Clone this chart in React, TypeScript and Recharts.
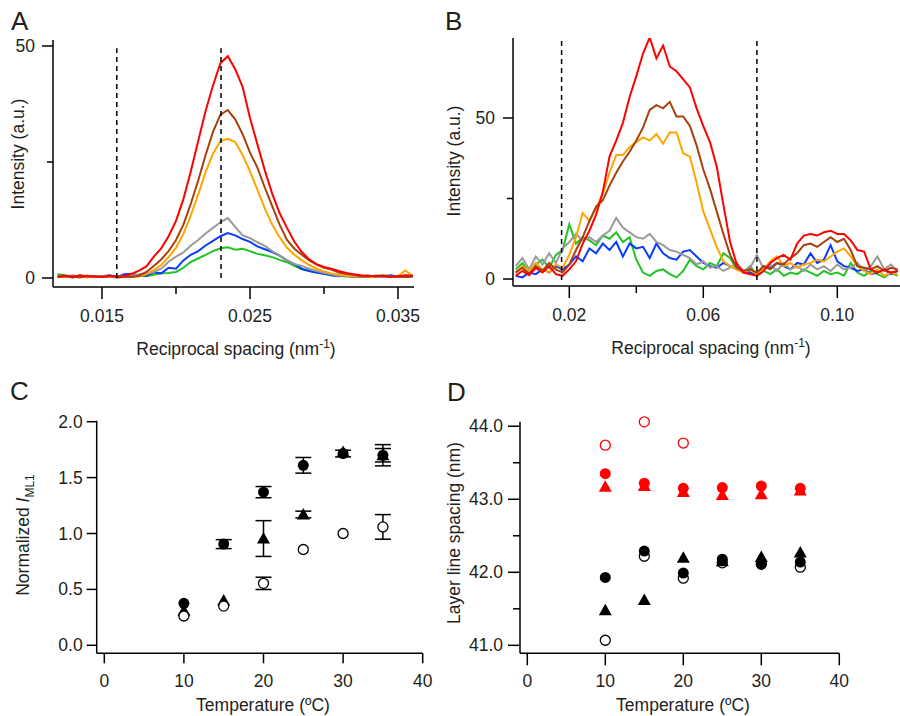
import React from "react";
import {
  LineChart,
  Line,
  XAxis,
  YAxis,
  ReferenceLine,
  ScatterChart,
  Scatter,
  ErrorBar,
} from "recharts";

const FONT = '"Liberation Sans", Arial, Helvetica, sans-serif';
const INK = "#231f20";

const COLORS = {
  red: "#ff0000",
  brown: "#a8400c",
  orange: "#ffa500",
  gray: "#9a9a9a",
  blue: "#0a3cff",
  green: "#20c420",
};

// ---- panel A: first layer line profiles
const aX = [
  0.012, 0.0125, 0.013, 0.0135, 0.014, 0.0145, 0.015, 0.0155, 0.016, 0.0165,
  0.017, 0.0175, 0.018, 0.0185, 0.019, 0.0195, 0.02, 0.0205, 0.021, 0.0215,
  0.022, 0.0225, 0.023, 0.0235, 0.024, 0.0245, 0.025, 0.0255, 0.026, 0.0265,
  0.027, 0.0275, 0.028, 0.0285, 0.029, 0.0295, 0.03, 0.0305, 0.031, 0.0315,
  0.032, 0.0325, 0.033, 0.0335, 0.034, 0.0345, 0.035, 0.0355, 0.036,
];
const aRed = [
  0.3, 0.5, 0.2, 0.6, 0.3, 0.4, 0.2, 0.5, 0.3, 0.4,
  0.9, 1.6, 2.5, 4.6, 6.4, 9.0, 12.3, 17.0, 23.0, 29.5,
  36.0, 41.5, 46.3, 47.8, 45.0, 41.2, 34.5, 28.8, 23.2, 18.2,
  14.0, 10.8, 7.8, 5.6, 4.0, 3.0, 2.4, 2.0, 1.5, 1.1,
  0.8, 0.6, 0.5, 0.4, 0.5, 0.3, 0.4, 0.6, 0.5,
];
const aBrown = [
  0.2, 0.4, 0.3, 0.1, 0.5, 0.3, 0.2, 0.4, 0.1, 0.3,
  0.2, 0.5, 1.3, 2.6, 4.0, 5.8, 8.2, 11.5, 16.0, 21.0,
  26.5, 31.5, 35.2, 36.2, 34.2, 31.0, 27.0, 23.8, 19.5, 15.5,
  11.5, 8.2, 6.3, 5.0, 3.8, 2.9, 2.2, 1.8, 1.2, 0.9,
  0.7, 0.4, 0.3, 0.5, 0.3, 0.2, 0.3, 0.2, 0.4,
];
const aOrange = [
  0.3, 0.2, 0.5, 0.3, 0.1, 0.4, 0.2, 0.3, 0.2, 0.3,
  0.2, 0.3, 0.8, 1.7, 2.8, 4.5, 6.5, 9.5, 13.5, 18.0,
  22.8, 26.8, 29.5, 30.0, 29.3, 26.5, 23.0, 19.0, 15.0, 11.5,
  8.8, 6.5, 5.0, 3.8, 2.8, 2.0, 1.4, 1.0, 0.7, 0.5,
  0.3, 0.4, 0.2, 0.3, 0.5, 0.2, 0.4, 1.6, 0.4,
];
const aGray = [
  0.4, 0.2, 0.6, 0.3, 0.5, 0.2, 0.4, 0.3, 0.2, 0.4,
  0.5, 0.8, 1.0, 1.3, 2.0, 3.5, 4.6, 5.5, 7.0, 8.2,
  9.6, 10.8, 12.0, 12.9, 11.0, 9.2, 8.6, 7.7, 6.9, 5.8,
  4.9, 3.8, 3.0, 2.6, 2.0, 1.5, 1.1, 0.8, 0.5, 0.6,
  0.4, 0.3, 0.5, 0.2, 0.4, 0.3, 0.2, 0.4, 0.3,
];
const aBlue = [
  0.2, 0.4, 0.1, 0.5, 0.3, 0.2, 0.4, 0.6, 0.2, 0.8,
  0.9, 0.6, 0.5, 1.2, 1.0, 2.2, 2.0, 3.8, 5.0, 5.8,
  7.0, 8.0, 9.0, 9.7, 9.2, 8.4, 7.8, 6.8, 6.2, 5.6,
  4.8, 3.8, 3.0, 2.0, 1.5, 1.2, 0.9, 0.6, 0.4, 0.5,
  0.2, 0.3, 0.5, 0.2, 0.4, 0.6, 0.3, 0.4, 0.3,
];
const aGreen = [
  0.8, 0.6, 0.3, 0.5, 0.4, 0.2, 0.3, 0.4, 0.1, 0.2,
  0.3, 0.5, 0.4, 0.7, 1.0, 1.1, 1.3, 2.2, 3.5, 4.2,
  5.0, 5.8, 6.4, 6.6, 6.1, 6.3, 5.8, 5.2, 4.9, 4.5,
  3.9, 3.4, 2.6, 1.9, 1.5, 1.2, 0.9, 0.6, 0.5, 0.3,
  0.4, 0.2, 0.3, 0.5, 0.6, 0.3, 0.2, 0.4, 0.3,
];
const aXTicks = [0.015, 0.02, 0.025, 0.03, 0.035];
const aXLabels = ["0.015", "", "0.025", "", "0.035"];
const aYTicks = [0, 25, 50];
const aYLabels = ["0", "", "50"];
const aMarkers = [0.016, 0.02304];

// ---- panel B: wider profiles
const bX = [
  0.004, 0.006, 0.008, 0.01, 0.012, 0.014, 0.016, 0.018, 0.02, 0.022,
  0.024, 0.026, 0.028, 0.03, 0.032, 0.034, 0.036, 0.038, 0.04, 0.042,
  0.044, 0.046, 0.048, 0.05, 0.052, 0.054, 0.056, 0.058, 0.06, 0.062,
  0.064, 0.066, 0.068, 0.07, 0.072, 0.074, 0.076, 0.078, 0.08, 0.082,
  0.084, 0.086, 0.088, 0.09, 0.092, 0.094, 0.096, 0.098, 0.1, 0.102,
  0.104, 0.106, 0.108, 0.11, 0.112, 0.114, 0.116, 0.118,
];
const bRed = [
  1.0, 2.5, 1.2, 3.5, 2.0, 4.0, 1.5, 1.0, 3.0, 5.5,
  11.0, 15.0, 20.0, 27.0, 38.0, 43.0, 48.5, 56.5, 63.0, 70.0,
  75.0, 68.5, 72.5, 66.0, 64.5, 62.0, 59.5, 53.0, 47.5, 42.5,
  35.0, 23.0, 11.5, 4.5, 2.0, 1.5, 1.0, 2.5, 5.0, 6.5,
  7.5, 6.0, 11.0, 13.5, 14.0, 13.5, 14.5, 15.0, 14.0, 14.0,
  12.0, 9.0, 8.5, 3.0, 2.0, 3.0, 2.0, 2.5,
];
const bBrown = [
  2.0, 3.5, 1.5, 4.0, 2.5, 5.0, 3.0, 2.0, 4.5, 9.0,
  13.0, 18.0, 22.5, 24.5, 29.0, 33.0, 36.5, 39.5, 43.0, 47.0,
  52.5, 54.0, 53.0, 55.0, 50.5, 50.5, 47.5, 41.5, 34.0, 28.0,
  21.0, 14.0, 7.5, 3.5, 2.5, 3.0, 2.0, 4.0, 3.0, 5.0,
  4.5, 6.5, 8.0, 10.5, 11.0, 10.0, 11.5, 13.0, 11.5, 12.5,
  9.0, 4.0, 3.5, 3.0, 4.0, 2.5, 3.5, 3.0,
];
const bOrange = [
  2.0, 4.0, 2.5, 5.0, 3.0, 2.0, 4.5, 3.5, 7.5, 13.0,
  20.5, 18.0, 22.0, 26.5, 33.0, 38.5, 38.5, 41.0, 42.5, 44.0,
  43.0, 45.0, 42.0, 45.5, 45.5, 39.0, 38.0, 30.0, 21.0, 15.5,
  10.0, 5.5, 4.0, 3.0, 2.0, 3.0, 1.5, 3.0, 5.5, 7.0,
  4.0, 5.0, 3.5, 4.5, 5.0, 6.0, 5.5, 7.0, 8.5, 9.5,
  7.0, 4.0, 2.5, 1.5, 3.0, 1.0, 2.0, 1.5,
];
const bGreen = [
  3.0, 5.0, 2.0, 4.5, 6.0, 3.5, 7.5, 9.0, 17.0, 11.0,
  13.0, 12.0, 10.5, 13.5, 12.5, 14.5, 11.5, 13.0, 6.0, 2.0,
  1.0, 2.5, 3.0, 1.5, 0.5, 2.5, 6.0, 4.0, 3.0, 5.0,
  4.0, 8.0, 6.5, 3.0, 2.0, 4.0, 1.0, 2.5, 1.5, 3.0,
  1.0, 2.0, 1.5, 3.0, 2.0, 1.0, 2.5, 1.5, 2.0, 1.0,
  5.0, 2.0, 1.0, 2.5, 1.5, 0.5, 2.0, 1.0,
];
const bBlue = [
  1.0, 0.5, 2.0, 1.5, 3.0, 2.0, 4.0, 3.0, 4.5, 7.0,
  5.5, 9.5, 8.0, 11.0, 9.0, 11.5, 7.0, 11.0, 9.5, 10.0,
  6.5, 11.0, 8.0, 6.5, 6.0, 8.5, 9.0, 7.0, 5.0, 4.0,
  3.5, 5.0, 4.0, 3.0, 2.5, 2.0, 1.0, 4.0, 3.5, 5.0,
  4.0, 3.0, 5.0, 4.5, 8.0, 5.0, 6.0, 10.5, 5.5, 4.0,
  3.5, 2.5, 3.0, 1.5, 2.0, 3.0, 1.5, 2.5,
];
const bGray = [
  4.0, 6.5, 3.0, 7.0, 4.5, 8.0, 5.0, 9.5, 11.5, 14.0,
  12.0, 13.0, 11.5, 13.5, 15.0, 19.0, 16.0, 14.5, 13.0, 12.5,
  14.0, 11.5, 10.5, 9.0, 8.5, 7.5, 6.5, 4.5, 5.5, 3.5,
  4.0, 2.5, 3.5, 5.0, 2.5, 3.5, 7.5, 3.0, 4.5, 2.5,
  5.0, 3.0, 4.0, 2.5, 4.5, 3.0, 4.0, 2.5, 4.5, 3.0,
  3.5, 5.0, 2.5, 4.0, 7.0, 3.0, 4.5, 2.5,
];
const bXTicks = [0.02, 0.04, 0.06, 0.08, 0.1];
const bXLabels = ["0.02", "", "0.06", "", "0.10"];
const bMarkers = [0.0177, 0.076];

// ---- panel C: normalized I_ML1 vs temperature
const temps = [10, 15, 20, 25, 30, 35];
const cCircle = [0.375, 0.905, 1.37, 1.61, 1.715, 1.7];
const cCircleErr = [null, 0.04, 0.05, 0.07, 0.03, 0.06];
const cTriangle = [0.31, 0.4, 0.955, 1.17, 1.73, 1.7];
const cTriangleErr = [null, null, 0.16, 0.03, null, 0.095];
const cOpen = [0.262, 0.351, 0.554, 0.857, 1.0, 1.059];
const cOpenErr = [null, null, 0.055, null, null, 0.11];
const cYTicks = [0, 0.5, 1, 1.5, 2];
const cYLabels = ["0.0", "0.5", "1.0", "1.5", "2.0"];
const tempTicks = [0, 10, 20, 30, 40];
const tempLabels = ["0", "10", "20", "30", "40"];

// ---- panel D: layer line spacing vs temperature
const dRedOpenTemps = [10, 15, 20];
const dRedOpen = [43.74, 44.06, 43.77];
const dRedCircle = [43.35, 43.22, 43.15, 43.16, 43.18, 43.15];
const dRedTriangle = [43.17, 43.18, 43.1, 43.06, 43.07, 43.12];
const dBlackCircle = [41.93, 42.29, 41.99, 42.18, 42.12, 42.14];
const dBlackOpen = [41.07, 42.22, 41.92, 42.13, 42.11, 42.07];
const dBlackTriangle = [41.48, 41.62, 42.2, 42.15, 42.21, 42.27];
const dYTicks = [41, 41.5, 42, 42.5, 43, 43.5, 44];
const dYLabels = ["41.0", "", "42.0", "", "43.0", "", "44.0"];

const aRows = aX.map((x, i) => ({
  x,
  red: aRed[i],
  brown: aBrown[i],
  orange: aOrange[i],
  gray: aGray[i],
  blue: aBlue[i],
  green: aGreen[i],
}));
const bRows = bX.map((x, i) => ({
  x,
  red: bRed[i],
  brown: bBrown[i],
  orange: bOrange[i],
  gray: bGray[i],
  blue: bBlue[i],
  green: bGreen[i],
}));
const pts = (xs: number[], ys: number[], errs?: (number | null)[]) =>
  xs.map((x, i) => ({ x, y: ys[i], err: errs && errs[i] != null ? errs[i] : undefined }));

const findLabel = (ticks: number[], labels: string[], v: number) => {
  const i = ticks.findIndex((t) => Math.abs(t - v) < 1e-9);
  return i >= 0 ? labels[i] : "";
};

const TICK_FONT = 17.5;

// ticks drawn by hand so minor ticks can be shorter
const xTick =
  (ticks: number[], labels: string[], major = 12, minor = 7, dy = 29) =>
  (props: any) => {
    const { x, y, payload } = props;
    const label = findLabel(ticks, labels, payload.value);
    return (
      <g>
        <line x1={x} y1={y} x2={x} y2={y + (label ? major : minor)} stroke="#000" strokeWidth={1.5} />
        {label ? (
          <text x={x} y={y + dy} textAnchor="middle" dominantBaseline="central" fontSize={TICK_FONT} fontFamily={FONT} fill={INK}>
            {label}
          </text>
        ) : null}
      </g>
    );
  };

const yTick =
  (ticks: number[], labels: string[], major = 11, minor = 6, dx = 18) =>
  (props: any) => {
    const { x, y, payload } = props;
    const label = findLabel(ticks, labels, payload.value);
    return (
      <g>
        <line x1={x} y1={y} x2={x - (label ? major : minor)} y2={y} stroke="#000" strokeWidth={1.5} />
        {label ? (
          <text x={x - dx} y={y} textAnchor="end" dominantBaseline="central" fontSize={TICK_FONT} fontFamily={FONT} fill={INK}>
            {label}
          </text>
        ) : null}
      </g>
    );
  };

const marker = (kind: "fill" | "open" | "tri", color: string) => (p: any) => {
  const { cx, cy } = p;
  if (cx == null || cy == null) return <g />;
  if (kind === "tri") {
    return <polygon points={`${cx},${cy - 6.5} ${cx - 6.5},${cy + 5} ${cx + 6.5},${cy + 5}`} fill={color} />;
  }
  if (kind === "open") {
    return <circle cx={cx} cy={cy} r={5} fill="#fff" stroke={color} strokeWidth={1.3} />;
  }
  return <circle cx={cx} cy={cy} r={5.5} fill={color} />;
};

const axisLine = { stroke: "#000", strokeWidth: 1.5 };
const seriesOrder: (keyof typeof COLORS)[] = ["green", "blue", "gray", "orange", "brown", "red"];

function Panel({ left, top, children }: { left: number; top: number; children: React.ReactNode }) {
  return <div style={{ position: "absolute", left, top }}>{children}</div>;
}

export default function App() {
  const dash = { stroke: "#000", strokeWidth: 1.5, strokeDasharray: "5 4" };
  return (
    <div style={{ position: "absolute", left: 0, top: 0, width: 900, height: 716, background: "#fff", overflow: "hidden" }}>
      <Panel left={0} top={0}>
        <LineChart width={430} height={370} data={aRows} margin={{ top: 40, right: 16, left: 0, bottom: 53 }}>
          <XAxis
            type="number"
            dataKey="x"
            domain={[0.011689, 0.036081]}
            allowDataOverflow
            ticks={aXTicks}
            interval={0}
            height={30}
            tickLine={false}
            tickSize={0}
            tickMargin={0}
            axisLine={axisLine}
            tick={xTick(aXTicks, aXLabels)}
          />
          <YAxis
            type="number"
            domain={[-1.94, 51.29]}
            allowDataOverflow
            ticks={aYTicks}
            interval={0}
            width={53}
            tickLine={false}
            tickSize={0}
            tickMargin={0}
            axisLine={axisLine}
            tick={yTick(aYTicks, aYLabels)}
          />
          {seriesOrder.map((k) => (
            <Line key={k} type="linear" dataKey={k} stroke={COLORS[k]} strokeWidth={2} dot={false} isAnimationActive={false} />
          ))}
          {aMarkers.map((m) => (
            <ReferenceLine key={m} segment={[{ x: m, y: 0 }, { x: m, y: 49.5 }]} {...dash} />
          ))}
        </LineChart>
      </Panel>

      <Panel left={440} top={0}>
        <LineChart width={460} height={370} data={bRows} margin={{ top: 38, right: 0, left: 0, bottom: 54 }}>
          <XAxis
            type="number"
            dataKey="x"
            domain={[0.003194, 0.118716]}
            allowDataOverflow
            ticks={bXTicks}
            interval={0}
            height={30}
            tickLine={false}
            tickSize={0}
            tickMargin={0}
            axisLine={axisLine}
            tick={xTick(bXTicks, bXLabels)}
          />
          <YAxis
            type="number"
            domain={[-2.17, 74.84]}
            allowDataOverflow
            ticks={aYTicks}
            interval={0}
            width={73}
            tickLine={false}
            tickSize={0}
            tickMargin={0}
            axisLine={axisLine}
            tick={yTick(aYTicks, aYLabels, 10, 6, 18)}
          />
          {seriesOrder.map((k) => (
            <Line key={k} type="linear" dataKey={k} stroke={COLORS[k]} strokeWidth={2} dot={false} isAnimationActive={false} />
          ))}
          {bMarkers.map((m) => (
            <ReferenceLine key={m} segment={[{ x: m, y: -0.3 }, { x: m, y: 74.8 }]} {...dash} />
          ))}
        </LineChart>
      </Panel>

      <Panel left={0} top={400}>
        <ScatterChart width={440} height={316} margin={{ top: 20.7, right: 17.3, left: 0, bottom: 32.7 }}>
          <XAxis
            type="number"
            dataKey="x"
            domain={[-0.955, 40]}
            ticks={tempTicks}
            interval={0}
            height={30}
            tickLine={false}
            tickSize={0}
            tickMargin={0}
            axisLine={axisLine}
            tick={xTick(tempTicks, tempLabels, 10, 6, 28)}
          />
          <YAxis
            type="number"
            dataKey="y"
            domain={[-0.0716, 2.009]}
            ticks={cYTicks}
            interval={0}
            width={96.7}
            tickLine={false}
            tickSize={0}
            tickMargin={0}
            axisLine={axisLine}
            tick={yTick(cYTicks, cYLabels, 10, 6, 14)}
          />
          <Scatter data={pts(temps, cCircle, cCircleErr)} shape={marker("fill", "#000")} isAnimationActive={false}>
            <ErrorBar dataKey="err" direction="y" width={8} stroke="#000" strokeWidth={1.5} />
          </Scatter>
          <Scatter data={pts(temps, cTriangle, cTriangleErr)} shape={marker("tri", "#000")} isAnimationActive={false}>
            <ErrorBar dataKey="err" direction="y" width={8} stroke="#000" strokeWidth={1.5} />
          </Scatter>
          <Scatter data={pts(temps, cOpen, cOpenErr)} shape={marker("open", "#000")} isAnimationActive={false}>
            <ErrorBar dataKey="err" direction="y" width={8} stroke="#000" strokeWidth={1.5} />
          </Scatter>
        </ScatterChart>
      </Panel>

      <Panel left={440} top={400}>
        <ScatterChart width={460} height={316} margin={{ top: 21.7, right: 60.7, left: 0, bottom: 32.7 }}>
          <XAxis
            type="number"
            dataKey="x"
            domain={[-0.936, 40]}
            ticks={tempTicks}
            interval={0}
            height={30}
            tickLine={false}
            tickSize={0}
            tickMargin={0}
            axisLine={axisLine}
            tick={xTick(tempTicks, tempLabels, 12, 6, 28)}
          />
          <YAxis
            type="number"
            dataKey="y"
            domain={[40.891, 44.062]}
            ticks={dYTicks}
            interval={0}
            width={80}
            tickLine={false}
            tickSize={0}
            tickMargin={0}
            axisLine={axisLine}
            tick={yTick(dYTicks, dYLabels, 12, 7, 17)}
          />
          <Scatter data={pts(dRedOpenTemps, dRedOpen)} shape={marker("open", COLORS.red)} isAnimationActive={false} />
          <Scatter data={pts(temps, dRedTriangle)} shape={marker("tri", COLORS.red)} isAnimationActive={false} />
          <Scatter data={pts(temps, dRedCircle)} shape={marker("fill", COLORS.red)} isAnimationActive={false} />
          <Scatter data={pts(temps, dBlackOpen)} shape={marker("open", "#000")} isAnimationActive={false} />
          <Scatter data={pts(temps, dBlackCircle)} shape={marker("fill", "#000")} isAnimationActive={false} />
          <Scatter data={pts(temps, dBlackTriangle)} shape={marker("tri", "#000")} isAnimationActive={false} />
        </ScatterChart>
      </Panel>

      {/* panel letters and axis titles */}
      <svg width={900} height={716} style={{ position: "absolute", left: 0, top: 0, pointerEvents: "none" }} fontFamily={FONT} fill={INK}>
        <text x={11} y={30} fontSize={26}>A</text>
        <text x={445} y={30} fontSize={26}>B</text>
        <text x={10} y={400} fontSize={26}>C</text>
        <text x={447} y={401} fontSize={26}>D</text>

        <text x={236} y={355} fontSize={17.5} textAnchor="middle">
          Reciprocal spacing (nm<tspan dy={-7} fontSize={12}>-1</tspan>
          <tspan dy={7}>)</tspan>
        </text>
        <text x={711} y={354} fontSize={17.5} textAnchor="middle">
          Reciprocal spacing (nm<tspan dy={-7} fontSize={12}>-1</tspan>
          <tspan dy={7}>)</tspan>
        </text>
        <text transform="translate(24,154) rotate(-90)" fontSize={17.5} textAnchor="middle">
          Intensity (a.u.)
        </text>
        <text transform="translate(460,161) rotate(-90)" fontSize={17.5} textAnchor="middle">
          Intensity (a.u.)
        </text>

        <text transform="translate(29,535) rotate(-90)" fontSize={17.5} textAnchor="middle">
          Normalized <tspan fontStyle="italic">I</tspan>
          <tspan dy={5} fontSize={12}>ML1</tspan>
        </text>
        <text transform="translate(460,533) rotate(-90)" fontSize={17.5} textAnchor="middle">
          Layer line spacing (nm)
        </text>
        <text x={263} y={711} fontSize={17.5} textAnchor="middle">
          Temperature (ºC)
        </text>
        <text x={683} y={711} fontSize={17.5} textAnchor="middle">
          Temperature (ºC)
        </text>
      </svg>
    </div>
  );
}
